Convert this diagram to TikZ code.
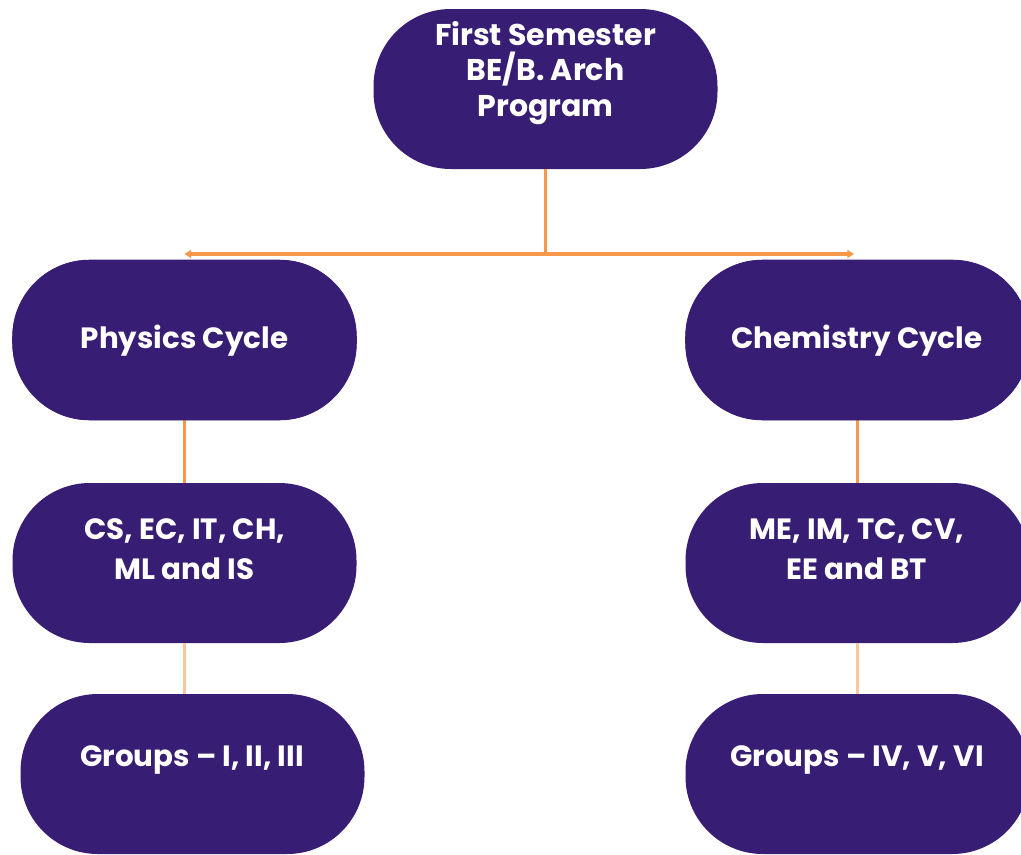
\documentclass[tikz,border=0pt]{standalone}
\usepackage{fontspec}
\setmainfont{Poppins}
\usetikzlibrary{arrows.meta}
\definecolor{nodepurple}{HTML}{371E74}
\definecolor{linkorange}{HTML}{F7974A}
\definecolor{linkpeach}{HTML}{FDC59B}
\tikzset{
  stadium/.style={draw=none, fill=nodepurple, rectangle, rounded corners=58pt,
    minimum width=258pt, minimum height=120pt, inner sep=0pt},
  lbl/.style={text=white, font=\bfseries\fontsize{22}{30}\selectfont, align=center, inner sep=0pt},
  toplbl/.style={text=white, font=\bfseries\fontsize{22.5}{26.5}\selectfont, align=center, inner sep=0pt},
  link/.style={draw=linkorange, line width=2.4pt},
  softlink/.style={draw=linkpeach, line width=2.4pt},
}
\begin{document}
\begin{tikzpicture}[x=0.75pt,y=-0.75pt]
\clip (0,0) rectangle (1021,854);
\fill[white] (0,0) rectangle (1021,854);
% nodes
\node[stadium] (top) at (545.5,89) {};
\node[stadium] (phys) at (184.5,340) {};
\node[stadium] (chem) at (857.5,340) {};
\node[stadium] (cs) at (184.5,563) {};
\node[stadium] (me) at (857.5,563) {};
\node[stadium] (g1) at (192.5,774) {};
\node[stadium] (g4) at (857.5,774) {};
% connectors
\coordinate (mid) at (545.5,254);
\coordinate (lend) at (184.5,254);
\coordinate (rend) at (854,254);
\draw[link] (top.south) -- (mid);
\draw[link,-{Triangle[length=5pt,width=6pt]}] (mid) -- (lend);
\draw[link,-{Triangle[length=5pt,width=6pt]}] (mid) -- (rend);
\draw[link] (phys.south) -- (phys.south |- cs.north);
\draw[link] (chem.south) -- (chem.south |- me.north);
\draw[softlink] (cs.south) -- (cs.south |- g1.north);
\draw[softlink] (me.south) -- (me.south |- g4.north);
% re-draw nodes on top of arrow tips
\fill[nodepurple, rounded corners=58pt] (phys.south west) rectangle (phys.north east);
\fill[nodepurple, rounded corners=58pt] (chem.south west) rectangle (chem.north east);
% labels
\node[toplbl] (toptext) at (545.5,73) {First Semester\\BE/B. Arch\\Program};
\node[lbl] (phystext) at (184.5,341) {Physics Cycle};
\node[lbl] (chemtext) at (857,341) {Chemistry Cycle};
\node[lbl] (cstext) at (184.5,549) {CS, EC, IT, CH,\\ML and IS};
\node[lbl] (metext) at (857,549) {ME, IM, TC, CV,\\EE and BT};
\node[lbl] (g1text) at (192,760) {Groups – I, II, III};
\node[lbl] (g4text) at (857,760) {Groups – IV, V, VI};
\end{tikzpicture}
\end{document}
